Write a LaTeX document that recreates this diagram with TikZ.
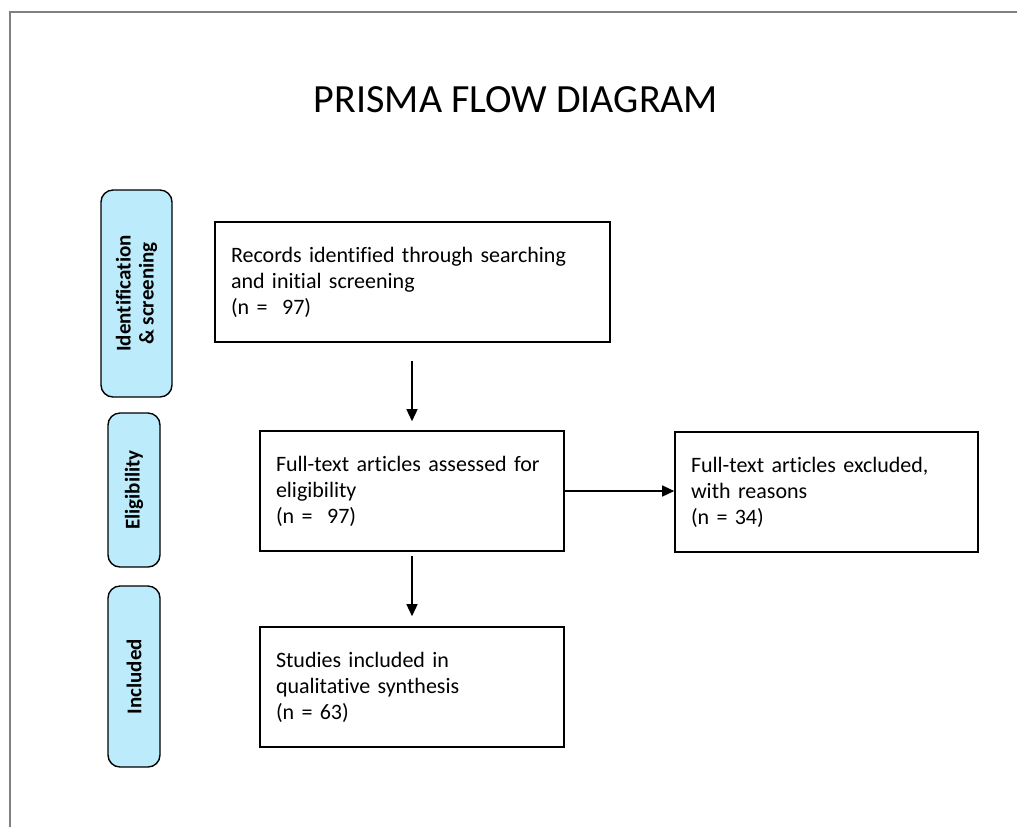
\documentclass[tikz,border=0pt]{standalone}
\usepackage{fontspec}
\setmainfont{Carlito}[Ligatures={NoCommon}]
\usetikzlibrary{arrows.meta}
\definecolor{barblue}{RGB}{188,236,252}
\begin{document}
\begin{tikzpicture}[x=0.5pt,y=-0.5pt,
    box/.style={draw, line width=0.8pt, align=left, inner sep=8pt, minimum height=60pt,
        font=\fontsize{11}{13}\selectfont},
    bar/.style={draw, line width=0.7pt, fill=barblue, rounded corners=6pt, rotate=90,
        align=center, font=\fontsize{10.5}{11.5}\selectfont\bfseries},
    arr/.style={line width=0.7pt, -{Triangle[width=5.5pt,length=6pt]}}]
            \useasboundingbox (0,0) rectangle (1017,827);
            \draw [gray, line width=1pt] (1017,12) -| (10,827);
            \node (title) at (516,100) {\fontsize{20}{24}\selectfont PRISMA FLOW DIAGRAM};
            % stage bars
            \node [bar, minimum width=103.5pt, minimum height=35.5pt] (idbar) at (136.5,293.5) {Identification\\ \& screening};
            \node [bar, minimum width=77pt, minimum height=26pt] (elbar) at (134,490) {Eligibility};
            \node [bar, minimum width=90.5pt, minimum height=26pt] (inbar) at (134,676.5) {Included};
            % boxes
            \node [box, text width=181.5pt] (records) at (412.5,282) {Records identified through searching\\and initial screening\\(n =\ \ 97)};
            \node [box, text width=136pt] (fulltext) at (412,491) {Full-text articles assessed for\\eligibility\\(n =\ \ 97)};
            \node [box, text width=135.5pt] (excluded) at (826.5,492) {Full-text articles excluded,\\with reasons\\(n = 34)};
            \node [box, text width=136pt] (included) at (412,687) {Studies included in\\qualitative synthesis\\(n = 63)};
            % arrows
            \draw [arr, shorten <=9pt, shorten >=4.5pt] (records.south -| fulltext) -- (fulltext.north);
            \draw [arr, shorten <=2pt, shorten >=5pt] (fulltext) -- (included);
            \draw [arr] (fulltext.east) -- (fulltext.east -| excluded.west);
        \end{tikzpicture}
\end{document}
